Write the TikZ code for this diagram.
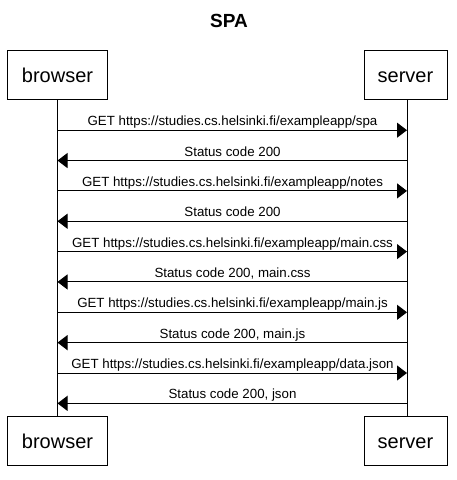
\documentclass[tikz,border=0pt]{standalone}
\usepackage{fontspec}
\setmainfont{Liberation Sans}
\usetikzlibrary{arrows.meta}
\tikzset{
  actor/.style={draw=black, line width=1pt, fill=white, inner sep=0pt, minimum height=49pt},
  actortext/.style={font=\fontsize{20}{24}\selectfont, anchor=base, inner sep=0pt},
  life/.style={line width=1pt},
  msg/.style={line width=1pt, -{Triangle[length=10pt,width=15pt]}},
  msgtext/.style={font=\fontsize{13.3}{15}\selectfont, anchor=base, inner sep=0pt},
}
\begin{document}
\begin{tikzpicture}[x=1pt,y=-1pt]
\useasboundingbox (0,0) rectangle (457,480);
\node[font=\bfseries\fontsize{19}{22}\selectfont, anchor=base, inner sep=0pt] (title) at (229,27) {SPA};
% actor boxes
\node[actor, minimum width=100pt] (bt) at (57.5,74.5) {};
\node[actor, minimum width=83pt] (st) at (405.5,74.5) {};
\node[actor, minimum width=100pt] (bb) at (57.5,440.5) {};
\node[actor, minimum width=83pt] (sb) at (405.5,440.5) {};
\node[actortext] (btl) at (57.5,82) {browser};
\node[actortext] (stl) at (405.5,82) {server};
\node[actortext] (bbl) at (57.5,448) {browser};
\node[actortext] (sbl) at (405.5,448) {server};
% lifelines
\coordinate (bt0) at (57.5,99);
\coordinate (bb0) at (57.5,416);
\coordinate (st0) at (407,99);
\coordinate (sb0) at (407,416);
\draw[life] (bt0) -- (bb0);
\draw[life] (st0) -- (sb0);
% messages
\foreach \i/\dir/\txt in {
  0/r/{GET https://studies.cs.helsinki.fi/exampleapp/spa},
  1/l/{Status code 200},
  2/r/{GET https://studies.cs.helsinki.fi/exampleapp/notes},
  3/l/{Status code 200},
  4/r/{GET https://studies.cs.helsinki.fi/exampleapp/main.css},
  5/l/{Status code 200, main.css},
  6/r/{GET https://studies.cs.helsinki.fi/exampleapp/main.js},
  7/l/{Status code 200, main.js},
  8/r/{GET https://studies.cs.helsinki.fi/exampleapp/data.json},
  9/l/{Status code 200, json}}{
  \pgfmathsetmacro{\yy}{130.2+30.35*\i}
  \coordinate (b\i) at (57.5,\yy);
  \coordinate (s\i) at (407,\yy);
  \node[msgtext] (m\i) at (232.5,\yy-4.5) {\txt};
  \if\dir r
    \draw[msg] (b\i) -- (s\i);
  \else
    \draw[msg] (s\i) -- (b\i);
  \fi
}
\end{tikzpicture}
\end{document}
